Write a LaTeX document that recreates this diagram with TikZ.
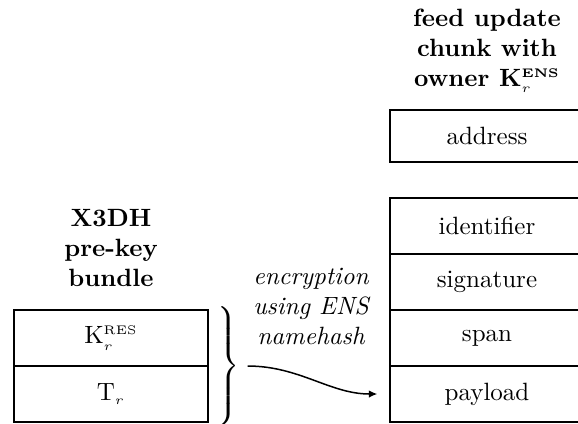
\documentclass[tikz,border=0pt]{standalone}
\usepackage{amsmath}
\usepackage{tikz}
\usetikzlibrary{arrows.meta,positioning}
\newcommand{\keyres}{$\mathrm{K}_{\scriptscriptstyle r}^{\text{\tiny RES}}$}
\newcommand{\keyens}{$\mathbf{K}_{\scriptscriptstyle r}^{\text{\tiny\bfseries ENS}}$}
\tikzset{
  field/.style={
    rectangle, draw=black, line width=0.5pt,
    minimum width=77.6pt, minimum height=22.4pt,
    inner sep=0pt, align=center
  },
  heading/.style={align=center, font=\bfseries},
  note/.style={align=center, font=\itshape},
  flow/.style={-{Latex[length=3.4pt,width=3pt]}, line width=0.6pt}
}

\begin{document}
\begin{tikzpicture}[x=0.4pt,y=0.4pt]
  \useasboundingbox (0,0) rectangle (578,423);
  \clip (0,0) rectangle (578,423);

  % pre-key bundle (left)
  \node[heading] (bundletitle) at (111,175) {X3DH\\pre-key\\bundle};
  \node[field] (tr)   at (111,29) {$\mathrm{T}_{\scriptscriptstyle r}$};
  \node[field] (kres) at (111,85) {\keyres};

  % feed update chunk (right)
  \node[heading] (chunktitle) at (487,372) {feed update\\chunk with\\owner \keyens};
  \node[field, minimum height=20.8pt] (address) at (487,287) {address};
  \foreach \lab [count=\i] in {payload,span,signature,identifier}
  {
    \node[field] (r\i) at (487,{29+56*(\i-1)}) {\lab};
  }

  % brace and encryption arrow
  \node[inner sep=0pt] (brace) at (227,57)
    {$\left.\vcenter{\hrule width 0pt height 48pt}\right\}$};
  \node[note] (enc) at (311,117) {encryption\\using ENS\\namehash};
  \draw[flow, shorten <=3pt, shorten >=4.8pt] (brace.east) to[out=0,in=180] (r1.west);
\end{tikzpicture}
\end{document}
